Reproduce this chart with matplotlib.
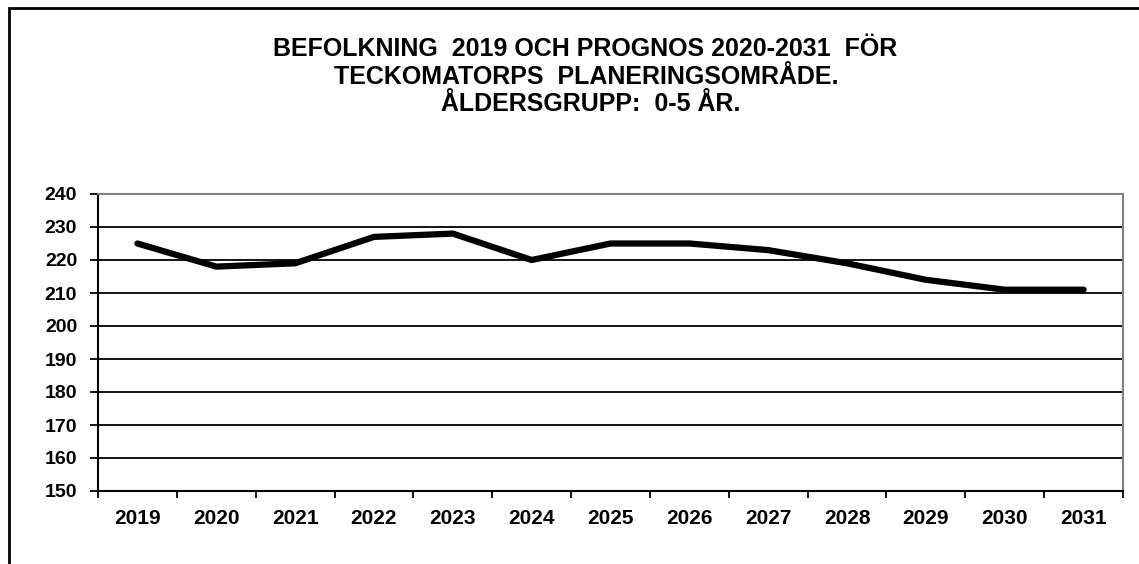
import matplotlib
matplotlib.use("Agg")
import matplotlib.pyplot as plt
from matplotlib.patches import Rectangle
from matplotlib.ticker import FixedLocator

years = ["2019", "2020", "2021", "2022", "2023", "2024", "2025",
         "2026", "2027", "2028", "2029", "2030", "2031"]
population = [225, 218, 219, 227, 228, 220, 225, 225, 223, 219, 214, 211, 211]
y_ticks = [150, 160, 170, 180, 190, 200, 210, 220, 230, 240]
title_lines = ["BEFOLKNING  2019 OCH PROGNOS 2020-2031  FÖR",
               "TECKOMATORPS  PLANERINGSOMRÅDE.",
               "ÅLDERSGRUPP:  0-5 ÅR."]

plt.rcParams['font.family'] = ['Liberation Sans', 'DejaVu Sans']

W, H = 1139, 564
fig = plt.figure(figsize=(W / 100, H / 100), dpi=100)

# outer frame
fig.patches.append(Rectangle((8.5 / W, -0.1), 1.2, (H - 8.5) / H + 0.1,
                             transform=fig.transFigure, fill=False,
                             edgecolor='black', linewidth=2.0))

ax = fig.add_axes([98 / W, (H - 491) / H, (1123 - 98) / W, (491 - 194) / H])

x = list(range(len(years)))
ax.plot(x, population, color='black', linewidth=4.5, solid_capstyle='round',
        solid_joinstyle='round', zorder=3)

ax.set_xlim(-0.5, len(years) - 0.5)
ax.set_ylim(150, 240)
ax.set_yticks(y_ticks)
ax.set_yticklabels([str(v) for v in y_ticks], fontsize=14, fontweight='bold')
ax.set_xticks(x)
ax.set_xticklabels(years, fontsize=15, fontweight='bold')
ax.xaxis.set_minor_locator(FixedLocator([i - 0.5 for i in range(len(years) + 1)]))

ax.tick_params(axis='x', which='major', length=0, pad=13)
ax.tick_params(axis='x', which='minor', length=5, width=1.3, direction='out')
ax.tick_params(axis='y', which='major', length=6, width=1.3, direction='out', pad=9)

ax.yaxis.grid(True, color='black', linewidth=1.3, zorder=1)
ax.set_axisbelow(True)

ax.spines['left'].set_color('black')
ax.spines['left'].set_linewidth(1.5)
ax.spines['bottom'].set_color('black')
ax.spines['bottom'].set_linewidth(1.5)
ax.spines['top'].set_color('#808080')
ax.spines['top'].set_linewidth(1.5)
ax.spines['right'].set_color('#808080')
ax.spines['right'].set_linewidth(1.5)

title_y = [49, 77, 104]
for line, yy, xx in zip(title_lines, title_y, [585, 586, 591]):
    fig.text(xx / W, 1 - yy / H, line, ha='center', va='center',
             fontsize=18, fontweight='bold')

fig.savefig("out.png", dpi=100)
